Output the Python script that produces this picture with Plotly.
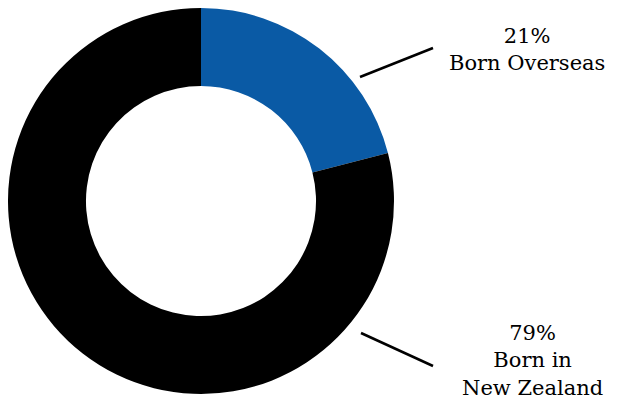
import plotly.graph_objects as go

labels = ["Born Overseas", "Born in New Zealand"]
values = [21, 79]
colors = ["#0a5aa5", "#000000"]
label_text = ["21%<br>Born Overseas", "79%<br>Born in<br>New Zealand"]

# page shows the figure offset by the default 8px body margin
OFF = 8
W, H = 619 - OFF, 397 - OFF

def px(x):
    return (x - OFF) / W

def py(y):
    return min(1.0, max(0.0, 1 - (y - OFF) / H))

fig = go.Figure(go.Pie(
    labels=labels, values=values, hole=0.596, sort=False,
    direction="clockwise", rotation=0,
    marker=dict(colors=colors, line=dict(width=0)),
    textinfo="none", hoverinfo="label+percent", showlegend=False,
    domain=dict(x=[px(8), px(394)], y=[py(394), py(8)]),
))

font = dict(family="DejaVu Serif", size=21, color="#000000")
fig.add_annotation(x=px(527), y=py(50), xref="paper", yref="paper", text=label_text[0],
                   showarrow=False, font=font, align="center", xanchor="center", yanchor="middle")
fig.add_annotation(x=px(532), y=py(360), xref="paper", yref="paper", text=label_text[1],
                   showarrow=False, font=font, align="center", xanchor="center", yanchor="middle")

for (x0, y0, x1, y1) in [(360, 77, 433, 48), (361, 333, 433, 366)]:
    fig.add_shape(type="line", xref="paper", yref="paper", x0=px(x0), y0=py(y0), x1=px(x1), y1=py(y1),
                  line=dict(color="#000000", width=2.5))

fig.update_layout(width=W, height=H, margin=dict(l=0, r=0, t=0, b=0),
                  paper_bgcolor="white", plot_bgcolor="white")
fig.write_html("out.html")
